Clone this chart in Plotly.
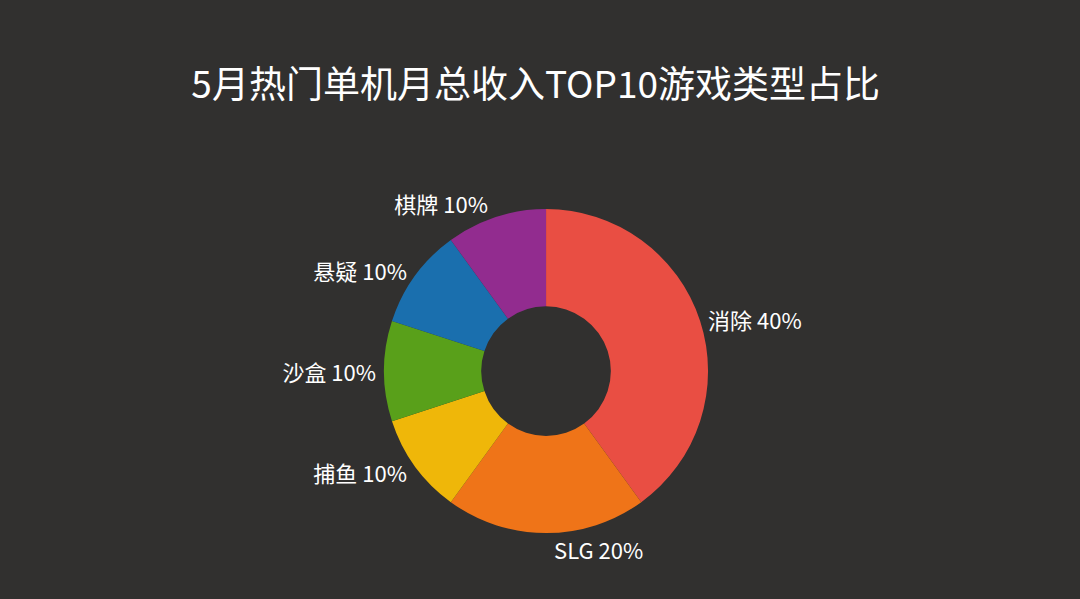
import plotly.graph_objects as go

# Data
genres = ["消除", "SLG", "捕鱼", "沙盒", "悬疑", "棋牌"]
shares = [40, 20, 10, 10, 10, 10]
colors = ["#e94e43", "#ef7418", "#efb709", "#59a01a", "#1a6fae", "#922c8f"]

BG = "#31302f"
FONT = "Noto Sans CJK SC, Microsoft YaHei, sans-serif"

fig = go.Figure()
fig.add_trace(
    go.Pie(
        labels=genres,
        values=shares,
        hole=0.4,
        sort=False,
        direction="clockwise",
        rotation=0,
        marker=dict(colors=colors, line=dict(width=0)),
        texttemplate="%{label} %{percent:.0%}",
        textposition="outside",
        outsidetextfont=dict(color="#ffffff", size=22, family=FONT),
        showlegend=False,
        domain=dict(x=[0.3556, 0.6556], y=[0.110, 0.651]),
    )
)

fig.update_layout(
    width=1080,
    height=599,
    paper_bgcolor=BG,
    plot_bgcolor=BG,
    margin=dict(l=0, r=0, t=0, b=0),
    title=dict(
        text="5月热门单机月总收入TOP10游戏类型占比",
        x=0.496,
        xanchor="center",
        y=0.858,
        yanchor="middle",
        font=dict(color="#ffffff", size=37, family=FONT),
    ),
)

# page margin off so the figure sits at the window's corner
fig.write_html(
    "out.html",
    config={"displayModeBar": False},
    post_script="document.body.style.margin='0';",
)
